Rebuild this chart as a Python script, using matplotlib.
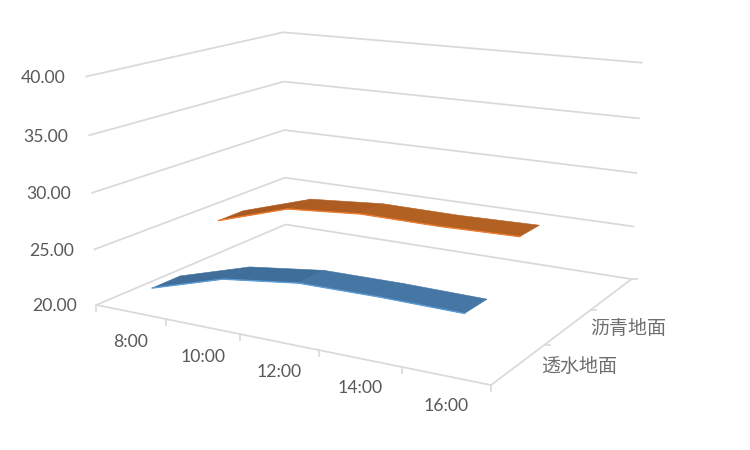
import numpy as np, matplotlib
matplotlib.use('Agg')
import matplotlib.pyplot as plt
from matplotlib.patches import Polygon

# ---- data ----
times = ['8:00', '10:00', '12:00', '14:00', '16:00']
series_names = ['透水地面', '沥青地面']
permeable = [21.3, 23.3, 24.15, 24.2, 24.1]
asphalt = [25.0, 27.1, 27.65, 27.6, 27.75]
z_ticks = [20, 25, 30, 35, 40]
z_labels = ['20.00', '25.00', '30.00', '35.00', '40.00']

# ---- styles ----
GRID = '#D9D9D9'
TXT = '#595959'
W, H = 750, 450
N_DEPTH = 3
RIB = 0.2
styles = [
    dict(pos=0.5, fills=['#3F6E9B', '#3F6E9B', '#4676A4', '#4676A4'], edge='#5B9BD5'),
    dict(pos=1.5, fills=['#A9591F', '#AE5C22', '#B36023', '#B36023'], edge='#ED7D31'),
]

# camera: fitted so that the box of the 3D chart lands where the reference shows it
cal = [(0,0,20,97,305),(0,0,25,94,250),(0,0,30,91,193),(0,0,35,88,135),(0,0,40,85,77),
       (0,3,20,285,224),(0,3,25,285,178),(0,3,30,284,130),(0,3,35,284,82),(0,3,40,284,32),
       (5,3,20,632,279),(5,3,25,634,227),(5,3,30,637,173),(5,3,35,640,118),(5,3,40,642,63),
       (5,0,20,491,385)]
A = []
for x, y, z, u, v in cal:
    A.append([x,y,z,1,0,0,0,0,-u*x,-u*y,-u*z,-u])
    A.append([0,0,0,0,x,y,z,1,-v*x,-v*y,-v*z,-v])
P = np.linalg.svd(np.array(A, float))[2][-1].reshape(3, 4)

def pr(x, y, z):
    p = P @ np.array([x, y, z, 1.0])
    return p[0]/p[2], p[1]/p[2]

fig = plt.figure(figsize=(7.5, 4.5), dpi=100)
ax = fig.add_axes([0, 0, 1, 1])
ax.set_xlim(0, W); ax.set_ylim(H, 0); ax.axis('off')
n = len(times)

def seg(a, b, **kw):
    pa, pb = pr(*a), pr(*b)
    ax.plot([pa[0], pb[0]], [pa[1], pb[1]], color=GRID, lw=1.25, solid_capstyle='butt', **kw)

# walls
for z in z_ticks:
    seg((0,0,z), (0,N_DEPTH,z))
    seg((0,N_DEPTH,z), (n,N_DEPTH,z))
# floor edges
seg((0,0,20), (n,0,20))
seg((n,0,20), (n,N_DEPTH,20))
# ticks
for i in range(n+1):
    u, v = pr(i, 0, 20)
    ax.plot([u, u], [v, v+6], color=GRID, lw=1.25)
for j in range(1, N_DEPTH+1):
    u, v = pr(n, j, 20)
    ax.plot([u, u+5], [v, v], color=GRID, lw=1.25)

# ribbons
for vals, st in zip([permeable, asphalt], styles):
    y0, y1 = st['pos']-RIB, st['pos']+RIB
    for i in range(n-1):
        pts = [pr(i+.5, y0, vals[i]), pr(i+1.5, y0, vals[i+1]),
               pr(i+1.5, y1, vals[i+1]), pr(i+.5, y1, vals[i])]
        ax.add_patch(Polygon(pts, closed=True, fc=st['fills'][i], ec=st['fills'][i], lw=0.4, zorder=3))
    front = np.array([pr(i+.5, y0, vals[i]) for i in range(n)])
    ax.plot(front[:,0], front[:,1], color=st['edge'], lw=1.0, zorder=4)

# text
latin = ['Lato', 'DejaVu Sans']
for z, lab in zip(z_ticks, z_labels):
    u, v = pr(0, 0, z)
    ax.text(u-20, v+1, lab, ha='right', va='center', color=TXT, fontsize=12.7, family=latin)
for i, lab in enumerate(times):
    u, v = pr(i+.5, 0, 20)
    ax.text(u, v+30, lab, ha='center', va='center', color=TXT, fontsize=12.7, family=latin)
for name, st in zip(series_names, styles):
    u, v = pr(n, st['pos'], 20)
    ax.text(u+22, v+2, name, ha='left', va='center', color='#6E6E6E', fontsize=13.7,
            family=['Noto Sans CJK SC', 'DejaVu Sans'])

fig.savefig('out.png')
